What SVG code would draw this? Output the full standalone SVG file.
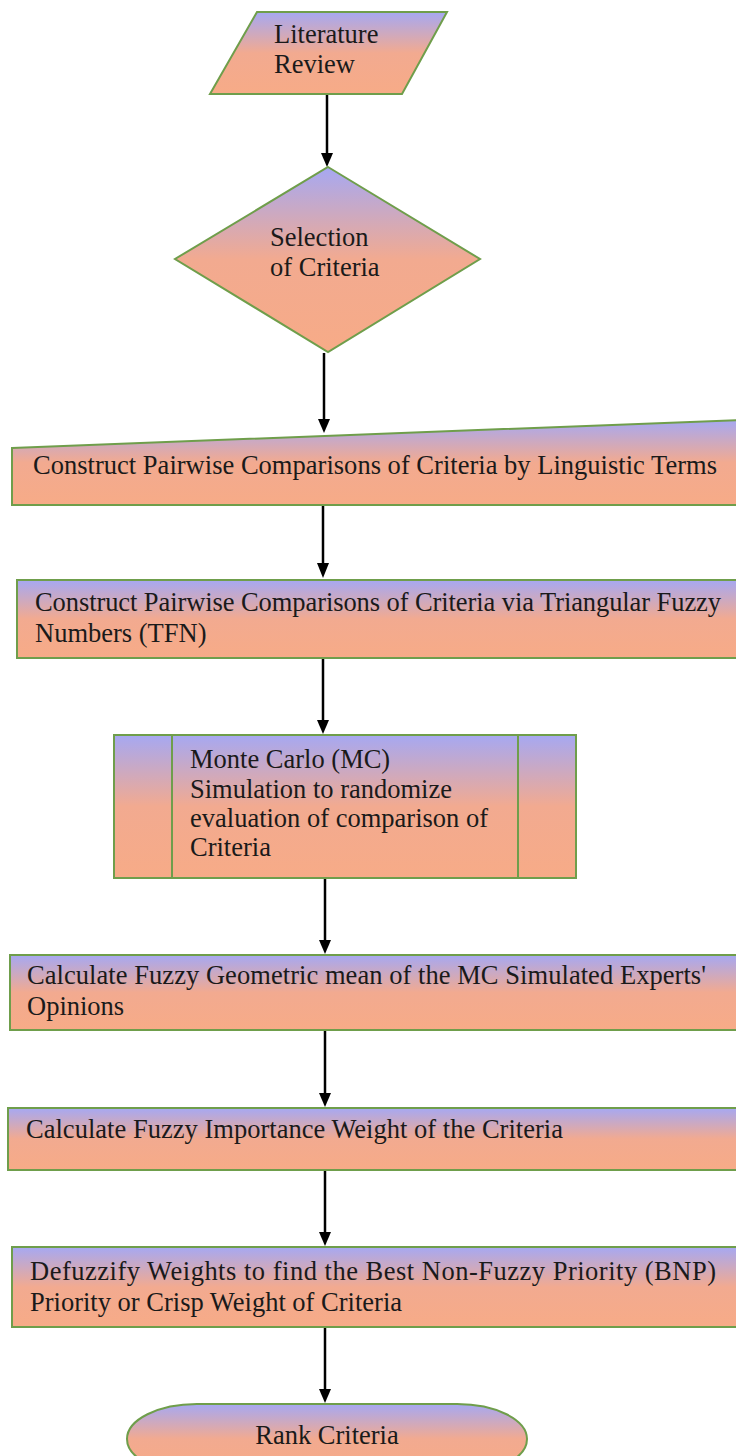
<svg xmlns="http://www.w3.org/2000/svg" width="736" height="1456" viewBox="0 0 736 1456">
<defs>
<linearGradient id="g" x1="0" y1="0" x2="0" y2="1">
<stop offset="0" stop-color="#a6a8f2"/>
<stop offset="0.5" stop-color="#f2aa90"/>
<stop offset="1" stop-color="#f7ab87"/>
</linearGradient>
<style>
.n{fill:url(#g);stroke:#6f9e4b;stroke-width:2}
.d{stroke:#6f9e4b;stroke-width:2}
.t{font-family:"Liberation Serif","Times New Roman",serif;font-size:26.5px;fill:#1a1a1a}
.c line{stroke:#000;stroke-width:2.5}
.c path{fill:#000}
</style>
</defs>
<rect width="736" height="1456" fill="#fff"/>
<g class="c" id="connectors">
<line x1="327" y1="95" x2="327" y2="153"/>
<path d="M321,153 L333,153 L327,167 Z"/>
<line x1="324" y1="353" x2="324" y2="419"/>
<path d="M318,419 L330,419 L324,433 Z"/>
<line x1="323" y1="506" x2="323" y2="563"/>
<path d="M317,563 L329,563 L323,578 Z"/>
<line x1="323" y1="659" x2="323" y2="720"/>
<path d="M317,720 L329,720 L323,734 Z"/>
<line x1="325" y1="879" x2="325" y2="940"/>
<path d="M319,940 L331,940 L325,954 Z"/>
<line x1="325" y1="1031" x2="325" y2="1093"/>
<path d="M319,1093 L331,1093 L325,1107 Z"/>
<line x1="325" y1="1171" x2="325" y2="1232"/>
<path d="M319,1232 L331,1232 L325,1246 Z"/>
<line x1="325" y1="1328" x2="325" y2="1389"/>
<path d="M319,1389 L331,1389 L325,1403 Z"/>
</g>
<g id="literature">
<polygon class="n" points="257,12 447,12 402,94 210,94"/>
<text class="t" x="274" y="43">Literature</text>
<text class="t" x="274" y="73">Review</text>
</g>
<g id="selection">
<polygon class="n" points="328,167 480,259 328,352 175,259"/>
<text class="t" x="270" y="246">Selection</text>
<text class="t" x="270" y="276">of Criteria</text>
</g>
<g id="linguistic">
<polygon class="n" points="12,448 740,420 740,505 12,505"/>
<text class="t" x="33" y="474" textLength="684" lengthAdjust="spacing">Construct Pairwise Comparisons of Criteria by Linguistic Terms</text>
</g>
<g id="tfn">
<rect class="n" x="17" y="580" width="725" height="78"/>
<text class="t" x="35" y="611" textLength="686" lengthAdjust="spacing">Construct Pairwise Comparisons of Criteria via Triangular Fuzzy</text>
<text class="t" x="35" y="642">Numbers (TFN)</text>
</g>
<g id="montecarlo">
<rect class="n" x="114" y="735" width="462" height="143"/>
<line class="d" x1="172" y1="735" x2="172" y2="878"/>
<line class="d" x1="518" y1="735" x2="518" y2="878"/>
<text class="t" x="190" y="768">Monte Carlo (MC)</text>
<text class="t" x="190" y="798">Simulation to randomize</text>
<text class="t" x="190" y="827">evaluation of comparison of</text>
<text class="t" x="190" y="856">Criteria</text>
</g>
<g id="geomean">
<rect class="n" x="10" y="955" width="732" height="75"/>
<text class="t" x="27" y="984" textLength="679" lengthAdjust="spacing">Calculate Fuzzy Geometric mean of the MC Simulated Experts'</text>
<text class="t" x="27" y="1015">Opinions</text>
</g>
<g id="importance">
<rect class="n" x="8" y="1108" width="734" height="62"/>
<text class="t" x="26" y="1138" textLength="537" lengthAdjust="spacing">Calculate Fuzzy Importance Weight of the Criteria</text>
</g>
<g id="defuzzify">
<rect class="n" x="12" y="1247" width="730" height="80"/>
<text class="t" x="30" y="1280" textLength="686" lengthAdjust="spacing">Defuzzify Weights to find the Best Non-Fuzzy Priority (BNP)</text>
<text class="t" x="30" y="1311">Priority or Crisp Weight of Criteria</text>
</g>
<g id="rank">
<rect class="n" x="127" y="1404" width="400" height="70" rx="70" ry="35"/>
<text class="t" x="327" y="1444" text-anchor="middle">Rank Criteria</text>
</g>
</svg>
